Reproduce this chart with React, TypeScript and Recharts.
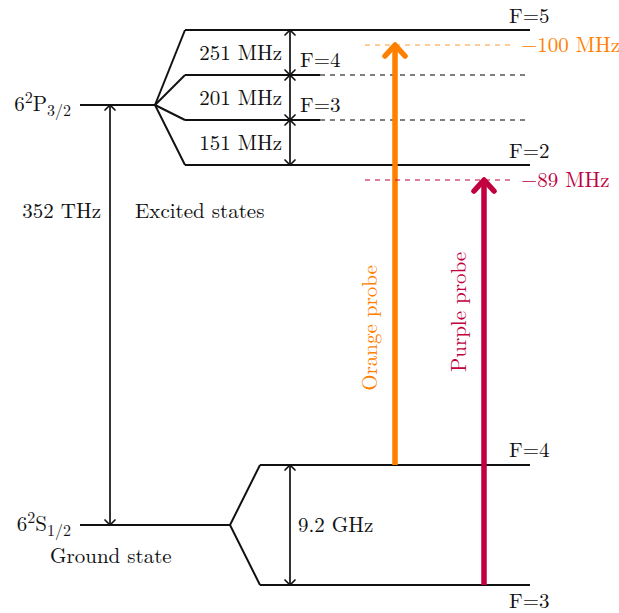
import { ComposedChart, XAxis, YAxis, ReferenceLine, ReferenceDot, Scatter } from 'recharts'
import type { ReactNode } from 'react'

const WIDTH = 619
const HEIGHT = 613
const FONT = "'Latin Modern Roman', 'Liberation Serif', serif"
const INK = '#111'

// Layout units: x to the right, y downward (the y axis is reversed)
const fineY = [105, 525] // 6²P3/2, 6²S1/2
const fineGap = '352 THz'

const excitedLevels = ['F=5', 'F=4', 'F=3', 'F=2']
const excitedY = [30, 75, 120, 165]
const excitedDashed = [false, true, true, false]
const excitedGaps = ['251 MHz', '201 MHz', '151 MHz']

const groundLevels = ['F=4', 'F=3']
const groundY = [465, 585]
const groundGap = '9.2 GHz'

const probeNames = ['Orange probe', 'Purple probe']
const probeColors = ['#FF8000', '#C0003F']
const probeX = [395, 484]
const probeFromY = [465, 585]
const probeToY = [45, 180]
const probeDetuning = ['\u2212100 MHz', '\u221289 MHz']

// horizontal positions of the drawing
const LEFT = 80
const EXCITED_FORK = 155
const GROUND_FORK = 230
const EXCITED_START = 185
const GROUND_START = 260
const RIGHT = 530
const SOLID_END = 320
const GAP_X = 290
const FINE_GAP_X = 110
const DETUNE_X0 = 365
const DETUNE_X1 = 512

// level end points, so the chart has rows to lay its axes out on
const levelRows = [...excitedY, ...groundY].map((y) => ({ x: RIGHT, y }))

const css = `
.diagram-text { font-family: ${FONT} !important; font-size: 21px; }
.diagram-text .small { font-size: 16px; }
`

type Seg = { x1: number; y1: number; x2: number; y2: number }

function chevron(tx: number, ty: number, dx: number, dy: number, len: number, half: number) {
  const bx = tx - dx * len
  const by = ty - dy * len
  const nx = -dy * half
  const ny = dx * half
  return `M${bx + nx},${by + ny} L${tx},${ty} L${bx - nx},${by - ny}`
}

function arrowShape(color: string, width: number, len: number, half: number, both: boolean) {
  return (p: any) => {
    const { x1, y1, x2, y2 } = p as Seg
    const d = Math.hypot(x2 - x1, y2 - y1) || 1
    const ux = (x2 - x1) / d
    const uy = (y2 - y1) / d
    const trim = width > 2 ? width * 0.6 : 0
    return (
      <g>
        <line x1={x1 + (both ? ux * trim : 0)} y1={y1 + (both ? uy * trim : 0)} x2={x2 - ux * trim} y2={y2 - uy * trim}
          stroke={color} strokeWidth={width} />
        <path d={chevron(x2, y2, ux, uy, len, half)} fill="none" stroke={color} strokeWidth={width}
          strokeLinecap="round" strokeLinejoin="round" />
        {both && (
          <path d={chevron(x1, y1, -ux, -uy, len, half)} fill="none" stroke={color} strokeWidth={width}
            strokeLinecap="round" strokeLinejoin="round" />
        )}
      </g>
    )
  }
}

function seg(key: string, x1: number, y1: number, x2: number, y2: number, extra: Record<string, unknown> = {}) {
  return (
    <ReferenceLine key={key} segment={[{ x: x1, y: y1 }, { x: x2, y: y2 }]} ifOverflow="visible"
      stroke={INK} strokeWidth={2} {...extra} />
  )
}

function text(key: string, x: number, y: number, content: ReactNode, opts: Record<string, unknown> = {}) {
  const { rotate, ...rest } = opts as { rotate?: number }
  return (
    <ReferenceDot key={key} x={x} y={y} r={0} ifOverflow="visible"
      shape={(p: any) => (
        <text className="diagram-text" x={p.cx} y={p.cy} fontFamily={FONT} fontSize={21} fill={INK}
          transform={rotate ? `rotate(${rotate} ${p.cx} ${p.cy})` : undefined} {...rest}>
          {content}
        </text>
      )} />
  )
}

function term(letter: string, j: string) {
  return (
    <>
      6<tspan className="small" dy={-8}>2</tspan>
      <tspan dy={8}>{letter}</tspan>
      <tspan className="small" dy={5}>{j}</tspan>
    </>
  )
}

export default function App() {
  const marks: ReactNode[] = []

  // fine-structure levels and the forks into hyperfine levels
  marks.push(seg('p-fine', LEFT, fineY[0], EXCITED_FORK, fineY[0]))
  marks.push(seg('s-fine', LEFT, fineY[1], GROUND_FORK, fineY[1]))

  excitedLevels.forEach((name, i) => {
    const y = excitedY[i]
    marks.push(seg(`e-fork-${i}`, EXCITED_FORK, fineY[0], EXCITED_START, y))
    if (excitedDashed[i]) {
      marks.push(seg(`e-solid-${i}`, EXCITED_START, y, SOLID_END, y))
      marks.push(seg(`e-dash-${i}`, SOLID_END, y, RIGHT, y, { stroke: '#000', strokeWidth: 1.1, strokeDasharray: '5 5' }))
      marks.push(text(`e-name-${i}`, GAP_X + 10, y - 8, name))
    } else {
      marks.push(seg(`e-level-${i}`, EXCITED_START, y, RIGHT, y))
      marks.push(text(`e-name-${i}`, RIGHT - 21, y - 7, name))
    }
  })

  groundLevels.forEach((name, i) => {
    const y = groundY[i]
    marks.push(seg(`g-fork-${i}`, GROUND_FORK, fineY[1], GROUND_START, y))
    marks.push(seg(`g-level-${i}`, GROUND_START, y, RIGHT, y))
    marks.push(text(`g-name-${i}`, RIGHT - 21, i === 0 ? y - 8 : y + 23, name))
  })

  // splittings
  excitedGaps.forEach((gap, i) => {
    marks.push(
      <ReferenceLine key={`e-gap-${i}`} segment={[{ x: GAP_X, y: excitedY[i + 1] }, { x: GAP_X, y: excitedY[i] }]}
        ifOverflow="visible" shape={arrowShape(INK, 1.7, 5, 5, true)} />
    )
    marks.push(text(`e-gap-t-${i}`, GAP_X - 8, (excitedY[i] + excitedY[i + 1]) / 2 + 7, gap, { textAnchor: 'end' }))
  })
  marks.push(
    <ReferenceLine key="g-gap" segment={[{ x: GAP_X, y: groundY[1] }, { x: GAP_X, y: groundY[0] }]}
      ifOverflow="visible" shape={arrowShape(INK, 1.7, 5, 5, true)} />
  )
  marks.push(text('g-gap-t', GAP_X + 8, (groundY[0] + groundY[1]) / 2 + 7, groundGap))

  marks.push(
    <ReferenceLine key="fine-gap" segment={[{ x: FINE_GAP_X, y: fineY[1] }, { x: FINE_GAP_X, y: fineY[0] }]}
      ifOverflow="visible" shape={arrowShape(INK, 1.7, 5, 5, true)} />
  )
  marks.push(text('fine-gap-t', FINE_GAP_X - 9, 218, fineGap, { textAnchor: 'end' }))
  marks.push(text('excited-t', FINE_GAP_X + 25, 218, 'Excited states'))
  marks.push(text('ground-t', 50, fineY[1] + 38, 'Ground state'))
  marks.push(text('p-term', LEFT - 9, fineY[0] + 6, term('P', '3/2'), { textAnchor: 'end' }))
  marks.push(text('s-term', LEFT - 9, fineY[1] + 6, term('S', '1/2'), { textAnchor: 'end' }))

  // probe lasers with their detunings
  probeNames.forEach((name, i) => {
    const color = probeColors[i]
    marks.push(seg(`detune-${i}`, DETUNE_X0, probeToY[i], DETUNE_X1, probeToY[i],
      { stroke: color, strokeWidth: 1, strokeDasharray: '5 5', strokeOpacity: i === 0 ? 0.8 : 1 }))
    marks.push(text(`detune-t-${i}`, DETUNE_X1 + 9, probeToY[i] + 7, probeDetuning[i], { fill: color }))
    marks.push(
      <ReferenceLine key={`probe-${i}`} segment={[{ x: probeX[i], y: probeFromY[i] }, { x: probeX[i], y: probeToY[i] }]}
        ifOverflow="visible" shape={arrowShape(color, 5.5, 11, 10, false)} />
    )
    marks.push(text(`probe-t-${i}`, probeX[i] - 18, i === 0 ? 328 : 312, name,
      { fill: color, textAnchor: 'middle', rotate: -90 }))
  })

  return (
    <div style={{ position: 'absolute', left: 0, top: 0, background: '#fff', fontFamily: FONT }}>
      <style>{css}</style>
      <ComposedChart width={WIDTH} height={HEIGHT} data={levelRows} margin={{ top: 0, right: 0, bottom: 0, left: 0 }}>
        <XAxis type="number" dataKey="x" domain={[0, WIDTH]} allowDataOverflow hide />
        <YAxis type="number" dataKey="y" domain={[0, HEIGHT]} allowDataOverflow reversed hide />
        <Scatter dataKey="y" fill="none" isAnimationActive={false} />
        {marks}
      </ComposedChart>
    </div>
  )
}
